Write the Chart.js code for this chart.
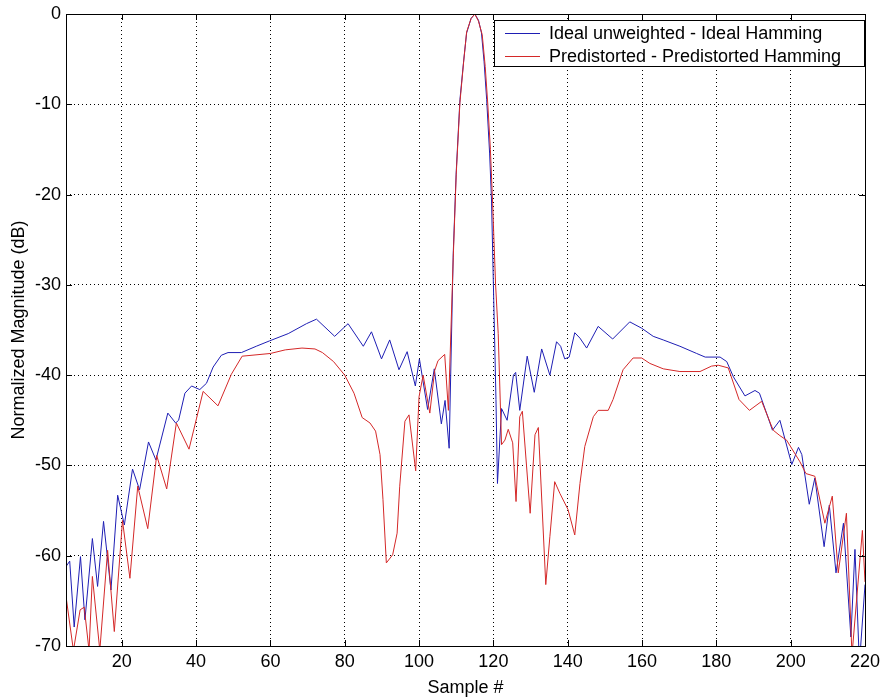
<!DOCTYPE html>
<html>
<head>
<meta charset="utf-8">
<script src="https://cdn.jsdelivr.net/npm/chart.js@4.4.1/dist/chart.umd.min.js"></script>
<style>
  html, body { margin: 0; padding: 0; background: #fff; }
</style>
</head>
<body>
<canvas id="myChart" width="886" height="700"></canvas>
<script>
// Series labels
const seriesLabels = ['Ideal unweighted - Ideal Hamming', 'Predistorted - Predistorted Hamming'];

// Ideal (blue) trace: sample # and magnitude in dB
const idealX = [5, 6, 7.2, 8.9, 10.1, 12.1, 13.5, 15.1, 17.1, 18.9, 20.7, 22.9, 24.8, 27.2, 29.2, 32.4, 34.5, 35.3, 37, 38.8,
  41, 42.8, 44.6, 46.8, 48.6, 52.2, 56.2, 59.8, 64.8, 69.7, 72.4, 77.3, 80.9, 85, 87.2, 89.9, 92.1, 94.6, 96.8, 99,
  100.1, 102.3, 104.1, 106, 107, 108.1, 109.2, 110, 111, 112, 112.8, 114, 115, 116, 116.8, 117.5, 118.2, 119, 119.5, 120.1,
  120.7, 121.1, 122.2, 123.7, 125.4, 126, 127.1, 129.1, 131, 133, 135.2, 137, 138.1, 139.2, 140.4, 141.9, 143.3, 145.1, 148.2, 152.1,
  156.7, 159.9, 163, 165.7, 170.2, 174.7, 177, 181, 182.8, 184.6, 187.7, 190.4, 191.6, 193.5, 195.1, 197.1, 200.3, 202.1, 203, 205,
  206.5, 209, 210.4, 212.2, 214.2, 216.2, 217.3, 218.5, 220];
const idealY = [-61.2, -60.6, -67.9, -60.1, -67.1, -58.1, -63.4, -56.2, -63.8, -53.3, -56.6, -50.4, -52.7, -47.4, -49.4, -44.2, -45.3, -45.0, -42.0, -41.2,
  -41.6, -40.9, -39.1, -37.8, -37.5, -37.5, -36.8, -36.2, -35.4, -34.3, -33.8, -35.7, -34.3, -36.8, -35.2, -38.2, -36.1, -39.4, -37.4, -41.2,
  -38.2, -43.8, -39.3, -45.4, -42.8, -48.1, -26.5, -17.5, -9.5, -5.2, -2.1, -0.5, 0, -0.7, -2.1, -5.3, -9.5, -15.5, -20.6, -31.7,
  -42.7, -52.0, -43.7, -45.0, -40.0, -39.7, -43.9, -37.9, -41.9, -37.1, -40.0, -36.3, -36.8, -38.2, -38.0, -35.3, -35.9, -37.0, -34.6, -36.0,
  -34.1, -34.8, -35.7, -36.1, -36.8, -37.6, -38.0, -38.0, -38.5, -40.2, -42.3, -41.7, -42.0, -44.2, -46.1, -45.0, -49.9, -48.0, -48.8, -54.3,
  -51.4, -59.0, -54.4, -61.9, -56.4, -69.0, -59.3, -72, -63.2];

// Predistorted (red) trace
const preX = [5, 7, 8.8, 9.9, 11.2, 12.1, 14.1, 16.2, 18, 20.2, 22.2, 24.3, 27, 29.4, 32.1, 34.7, 38.1, 41.9, 45.9, 49.5,
  52.4, 60, 64, 68.5, 72, 74, 77, 80, 82.5, 84.7, 86.8, 88.3, 89.5, 90.3, 91.2, 92.9, 94.1, 94.8, 96.2, 97.3,
  99.1, 100, 101.1, 102.9, 104.2, 105.1, 106.9, 107.9, 109.2, 110, 111, 112, 112.8, 114, 115, 116, 117, 117.8, 118.5, 119.2,
  119.8, 120.6, 121.3, 122.2, 123.1, 124, 125.2, 126.1, 127.1, 127.8, 129.9, 131.2, 132.1, 134.1, 135.2, 136.5, 137.9, 140.1, 141.9, 143.3,
  144.6, 146.9, 148.2, 150.9, 152.2, 154.9, 157.6, 159.9, 162.1, 165.7, 170.2, 175.6, 178.7, 180.5, 183.2, 186.1, 188.9, 192.2, 195.3, 197.1,
  198.9, 202.5, 204.1, 206.5, 209.2, 211.2, 212.8, 215, 216.5, 219.3, 220];
const preY = [-64.5, -70.5, -66, -65.7, -70.5, -62.3, -70.5, -59.4, -68.4, -56.1, -62.5, -52.3, -57, -48.9, -52.6, -45.3, -48.2, -41.8, -43.4, -39.9,
  -37.9, -37.6, -37.2, -37, -37.1, -37.5, -38.5, -40, -42, -44.7, -45.3, -46.2, -48.8, -53.8, -60.8, -59.9, -57.5, -52.3, -45.1, -44.4,
  -50.6, -42.4, -40, -44.2, -39.5, -38.4, -37.7, -43.9, -27, -17.8, -9.8, -5.3, -2, -0.5, 0, -0.8, -2.3, -5.8, -10, -15,
  -21, -30, -35.4, -47.7, -47.2, -46, -47.5, -54, -44.6, -44, -55.3, -46.6, -45.8, -63.2, -57.9, -51.8, -53.1, -54.9, -57.7, -52,
  -47.9, -44.6, -43.9, -43.9, -42.7, -39.4, -38.1, -38.1, -38.7, -39.3, -39.6, -39.6, -39, -38.9, -39.2, -42.7, -43.9, -42.9, -46.1, -46.7,
  -47.2, -49.6, -50.9, -51.2, -56.4, -53.4, -61.9, -55.3, -71, -57.2, -62.9];

// Tick positions
const xTicks = [20, 40, 60, 80, 100, 120, 140, 160, 180, 200, 220];
const yTicks = [0, -10, -20, -30, -40, -50, -60, -70];

const blue = 'rgb(30,30,180)';
const red = 'rgb(212,40,40)';
const FONT = 'Liberation Sans, Arial, sans-serif';

// box round the axes + ticks pointing inward (matlab style)
const frame = {
  id: 'frame',
  afterDraw(chart) {
    const { ctx, chartArea: a, scales } = chart;
    ctx.save();
    ctx.strokeStyle = '#000';
    ctx.lineWidth = 1;
    ctx.strokeRect(a.left + 0.5, a.top + 0.5, a.right - a.left, a.bottom - a.top);
    ctx.beginPath();
    xTicks.forEach(v => {
      const px = Math.round(scales.x.getPixelForValue(v)) + 0.5;
      ctx.moveTo(px, a.bottom); ctx.lineTo(px, a.bottom - 6);
      ctx.moveTo(px, a.top); ctx.lineTo(px, a.top + 6);
    });
    yTicks.forEach(v => {
      const py = Math.round(scales.y.getPixelForValue(v)) + 0.5;
      ctx.moveTo(a.left, py); ctx.lineTo(a.left + 6, py);
      ctx.moveTo(a.right, py); ctx.lineTo(a.right - 6, py);
    });
    ctx.stroke();

    // legend box, top right
    const bx = 494.5, by = 20.5, bw = 370, bh = 46;
    ctx.fillStyle = '#fff';
    ctx.fillRect(bx, by, bw, bh);
    ctx.strokeRect(bx, by, bw, bh);
    ctx.font = '18px ' + FONT;
    ctx.textBaseline = 'middle';
    chart.data.datasets.forEach((ds, i) => {
      const ly = 33.5 + i * 23;
      ctx.strokeStyle = ds.borderColor;
      ctx.beginPath();
      ctx.moveTo(505, ly); ctx.lineTo(540, ly);
      ctx.stroke();
      ctx.fillStyle = '#000';
      ctx.fillText(ds.label, 549, ly + 1);
    });
    ctx.restore();
  }
};

const ctx = document.getElementById('myChart');

new Chart(ctx, {
  type: 'line',
  data: {
    datasets: [{
      label: seriesLabels[0],
      data: idealX.map((x, i) => ({ x: x, y: idealY[i] })),
      borderColor: blue,
      borderWidth: 1,
      pointRadius: 0,
      tension: 0,
      order: 1
    }, {
      label: seriesLabels[1],
      data: preX.map((x, i) => ({ x: x, y: preY[i] })),
      borderColor: red,
      borderWidth: 1,
      pointRadius: 0,
      tension: 0,
      order: 0
    }]
  },
  options: {
    responsive: false,
    animation: false,
    devicePixelRatio: 1,
    layout: { padding: { top: 14, right: 21, left: 0, bottom: 0 } },
    plugins: { legend: { display: false }, tooltip: { enabled: false } },
    scales: {
      x: {
        type: 'linear',
        min: 5,
        max: 220,
        afterBuildTicks: axis => { axis.ticks = xTicks.map(v => ({ value: v })); },
        afterFit: s => { s.height = 54; s.paddingLeft = 0; s.paddingRight = 0; },
        grid: { color: '#000', lineWidth: 1, drawTicks: false },
        border: { display: false, dash: [1, 3] },
        ticks: { color: '#000', padding: 5, font: { family: FONT, size: 18 }, maxRotation: 0, autoSkip: false },
        title: { display: true, text: 'Sample #', color: '#000', font: { family: FONT, size: 18 }, padding: { top: 0, bottom: 1 } }
      },
      y: {
        min: -70,
        max: 0,
        afterBuildTicks: axis => { axis.ticks = yTicks.map(v => ({ value: v })); },
        afterFit: s => { s.width = 66; s.paddingTop = 0; s.paddingBottom = 0; },
        grid: { color: '#000', lineWidth: 1, drawTicks: false },
        border: { display: false, dash: [1, 3] },
        ticks: { color: '#000', padding: 5, font: { family: FONT, size: 18 }, callback: v => String(v) },
        title: { display: true, text: 'Normalized Magnitude (dB)', color: '#000', font: { family: FONT, size: 18 }, padding: { top: 8, bottom: 0 } }
      }
    }
  },
  plugins: [frame]
});
</script>
</body>
</html>
